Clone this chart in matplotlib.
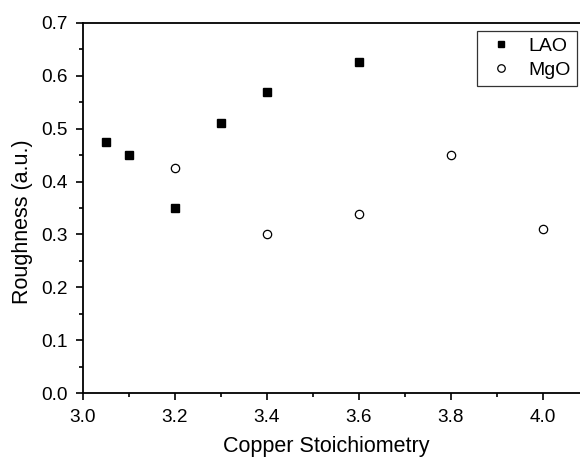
import matplotlib
matplotlib.use("Agg")
import matplotlib.pyplot as plt
from matplotlib.ticker import MultipleLocator

# data
lao_x = [3.05, 3.1, 3.2, 3.3, 3.4, 3.6]
lao_y = [0.475, 0.45, 0.35, 0.51, 0.57, 0.625]
mgo_x = [3.2, 3.4, 3.6, 3.8, 4.0]
mgo_y = [0.425, 0.30, 0.338, 0.45, 0.31]


def main():
    """
    Draw roughness vs copper stoichiometry scatter
    """
    plt.rcParams["font.family"] = ["Liberation Sans", "DejaVu Sans"]
    plt.rcParams["font.size"] = 13.7

    fig = plt.figure(figsize=(5.8, 4.59), dpi=100)
    ax = fig.add_axes([0.1431, 0.1431, 0.8724, 0.8074])

    ax.plot(lao_x, lao_y, "s", color="black", markersize=5.3,
            linestyle="none", label="LAO")
    ax.plot(mgo_x, mgo_y, "o", markerfacecolor="white",
            markeredgecolor="black", markeredgewidth=0.9, markersize=6,
            linestyle="none", label="MgO")

    ax.set_xlim(3.0, 4.1)
    ax.set_ylim(0.0, 0.7)
    ax.xaxis.set_major_locator(MultipleLocator(0.2))
    ax.xaxis.set_minor_locator(MultipleLocator(0.1))
    ax.yaxis.set_major_locator(MultipleLocator(0.1))
    ax.yaxis.set_minor_locator(MultipleLocator(0.05))
    ax.xaxis.set_major_formatter(plt.FormatStrFormatter("%.1f"))
    ax.yaxis.set_major_formatter(plt.FormatStrFormatter("%.1f"))

    for s in ax.spines.values():
        s.set_linewidth(1.3)
    ax.tick_params(which="both", direction="out", top=False, right=False,
                   width=1.2)
    ax.tick_params(which="major", length=5, pad=6)
    ax.tick_params(which="minor", length=3)

    ax.set_xlabel("Copper Stoichiometry", fontsize=15.5)
    ax.set_ylabel("Roughness (a.u.)", fontsize=15.5)
    ax.xaxis.set_label_coords(0.48, -0.114)
    ax.yaxis.set_label_coords(-0.098, 0.462)

    leg = ax.legend(loc="upper right", bbox_to_anchor=(0.977, 0.978),
                    frameon=True, fancybox=False, markerscale=0.9,
                    fontsize=14, handlelength=1.8, handletextpad=0.5,
                    borderpad=0.35, labelspacing=0.3, borderaxespad=0)
    leg.get_frame().set_edgecolor("black")
    leg.get_frame().set_linewidth(0.9)

    fig.savefig("out.png", dpi=100)


if __name__ == "__main__":
    main()
